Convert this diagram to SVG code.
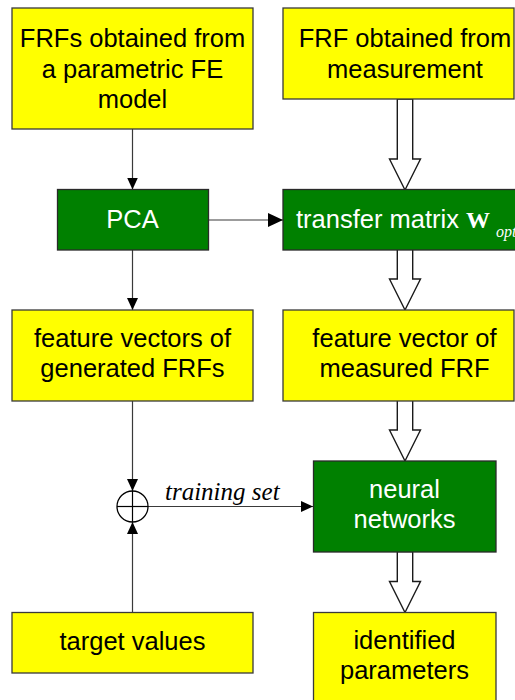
<svg xmlns="http://www.w3.org/2000/svg" width="515" height="700" viewBox="0 0 515 700">
  <style>
    .yel { fill: #ffff00; stroke: #3a3a3a; stroke-width: 1.3; }
    .grn { fill: #008000; stroke: #2a2a2a; stroke-width: 1.3; }
    .lbl { font-family: "Liberation Sans", Arial, sans-serif; font-size: 25.5px; fill: #000; text-anchor: middle; }
    .wht { fill: #ffffff; }
    .thin { fill: none; stroke: #3a3a3a; stroke-width: 1.2; }
    .hollow { fill: #ffffff; stroke: #1a1a1a; stroke-width: 1.4; stroke-linejoin: miter; }
    .serif { font-family: "Liberation Serif", "Times New Roman", serif; }
  </style>
  <defs>
    <marker id="tip" markerUnits="userSpaceOnUse" markerWidth="13" markerHeight="12" refX="12" refY="5.5" orient="auto">
      <path d="M0,0 L12,5.5 L0,11 Z" fill="#000"/>
    </marker>
    <marker id="tipL" markerUnits="userSpaceOnUse" markerWidth="16" markerHeight="15" refX="15" refY="7" orient="auto">
      <path d="M0,0 L15,7 L0,14 Z" fill="#000"/>
    </marker>
    <!-- block arrows pointing down, tip at origin -->
    <path id="blk" d="M-7.7,-61 L7.7,-61 L7.7,-31 L15.5,-31 L0,0 L-15.5,-31 L-7.7,-31 Z"/>
    <path id="blkLong" d="M-7.7,-91 L7.7,-91 L7.7,-31 L15.5,-31 L0,0 L-15.5,-31 L-7.7,-31 Z"/>
  </defs>

  <g id="connectors">
    <line class="thin" x1="132.5" y1="129" x2="132.5" y2="189.5" marker-end="url(#tip)"/>
    <line class="thin" x1="208.5" y1="220" x2="283" y2="220" marker-end="url(#tipL)"/>
    <line class="thin" x1="132.5" y1="250" x2="132.5" y2="310" marker-end="url(#tip)"/>
    <line class="thin" x1="132.5" y1="401" x2="132.5" y2="491" marker-end="url(#tip)"/>
    <line class="thin" x1="132.5" y1="612.5" x2="132.5" y2="522" marker-end="url(#tip)"/>
    <line class="thin" x1="148" y1="506.5" x2="313" y2="506.5" marker-end="url(#tip)"/>
    <text class="serif" x="165" y="500" font-size="25" font-style="italic" fill="#000">training set</text>
    <use href="#blkLong" class="hollow" x="405" y="190"/>
    <use href="#blk" class="hollow" x="405" y="310"/>
    <use href="#blk" class="hollow" x="405" y="461"/>
    <use href="#blk" class="hollow" x="405" y="612.5"/>
  </g>

  <g id="sum">
    <circle cx="132.5" cy="506.5" r="15.5" fill="none" stroke="#000" stroke-width="1.3"/>
    <line x1="117" y1="506.5" x2="148" y2="506.5" stroke="#000" stroke-width="1.2"/>
    <line x1="132.5" y1="491" x2="132.5" y2="522" stroke="#000" stroke-width="1.2"/>
  </g>

  <g id="fe-model">
    <rect class="yel" x="12" y="8" width="241" height="121"/>
    <text class="lbl" x="132.5" y="47">FRFs obtained from</text>
    <text class="lbl" x="132.5" y="77.7">a parametric FE</text>
    <text class="lbl" x="132.5" y="108.3">model</text>
  </g>

  <g id="measurement">
    <rect class="yel" x="283" y="8" width="231" height="91"/>
    <text class="lbl" x="405" y="47">FRF obtained from</text>
    <text class="lbl" x="405" y="77.7">measurement</text>
  </g>

  <g id="pca">
    <rect class="grn" x="57.5" y="189.5" width="151" height="60.5"/>
    <text class="lbl wht" x="132.5" y="228">PCA</text>
  </g>

  <g id="transfer">
    <rect class="grn" x="283" y="189.5" width="240" height="60.5"/>
    <text class="lbl wht" x="296" y="228" style="text-anchor:start">transfer matrix </text>
    <text class="serif" x="466" y="228" font-size="24" font-weight="bold" fill="#fff">W</text>
    <text class="serif" x="496" y="237" font-size="16" font-style="italic" fill="#fff">opt</text>
  </g>

  <g id="features-generated">
    <rect class="yel" x="12" y="310" width="241" height="91"/>
    <text class="lbl" x="132.5" y="346.7">feature vectors of</text>
    <text class="lbl" x="132.5" y="377">generated FRFs</text>
  </g>

  <g id="feature-measured">
    <rect class="yel" x="283" y="310" width="231" height="91"/>
    <text class="lbl" x="404.5" y="346.7">feature vector of</text>
    <text class="lbl" x="404.5" y="377">measured FRF</text>
  </g>

  <g id="neural">
    <rect class="grn" x="313.5" y="461" width="182.5" height="91"/>
    <text class="lbl wht" x="404.5" y="498">neural</text>
    <text class="lbl wht" x="404.5" y="528">networks</text>
  </g>

  <g id="targets">
    <rect class="yel" x="12" y="612.5" width="241" height="60.5"/>
    <text class="lbl" x="132.5" y="650">target values</text>
  </g>

  <g id="identified">
    <rect class="yel" x="313.5" y="612.5" width="182.5" height="100"/>
    <text class="lbl" x="404.5" y="649">identified</text>
    <text class="lbl" x="404.5" y="679">parameters</text>
  </g>
</svg>
